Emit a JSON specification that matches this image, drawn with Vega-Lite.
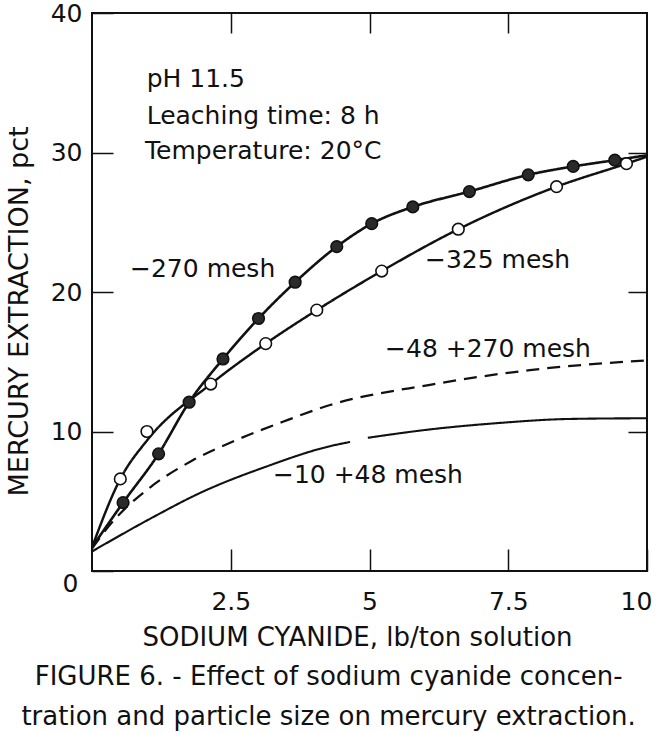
{
  "$schema": "https://vega.github.io/schema/vega-lite/v6.json",
  "width": 555,
  "height": 558,
  "autosize": {"type": "none"},
  "padding": {"left": 92, "top": 13, "right": 11, "bottom": 162},
  "background": "white",
  "config": {
    "font": "DejaVu Sans",
    "view": {"stroke": "#111", "strokeWidth": 2}
  },
  "title": {
    "text": ["FIGURE 6. - Effect of sodium cyanide concen-", "tration and particle size on mercury extraction."],
    "orient": "bottom",
    "anchor": "middle",
    "frame": "bounds",
    "font": "DejaVu Sans",
    "fontSize": 26,
    "fontWeight": "normal",
    "lineHeight": 40,
    "offset": 14,
    "color": "#111"
  },
  "datasets": {
    "curves": [
      {"series": "−270 mesh", "part": "a", "x": 0, "y": 1.7},
      {"series": "−270 mesh", "part": "a", "x": 0.56, "y": 4.9},
      {"series": "−270 mesh", "part": "a", "x": 1.2, "y": 8.4},
      {"series": "−270 mesh", "part": "a", "x": 1.75, "y": 12.1},
      {"series": "−270 mesh", "part": "a", "x": 2.36, "y": 15.2},
      {"series": "−270 mesh", "part": "a", "x": 3.0, "y": 18.1},
      {"series": "−270 mesh", "part": "a", "x": 3.66, "y": 20.7},
      {"series": "−270 mesh", "part": "a", "x": 4.41, "y": 23.25},
      {"series": "−270 mesh", "part": "a", "x": 5.04, "y": 24.9},
      {"series": "−270 mesh", "part": "a", "x": 5.78, "y": 26.1},
      {"series": "−270 mesh", "part": "a", "x": 6.8, "y": 27.2},
      {"series": "−270 mesh", "part": "a", "x": 7.86, "y": 28.4},
      {"series": "−270 mesh", "part": "a", "x": 8.67, "y": 29.0},
      {"series": "−270 mesh", "part": "a", "x": 9.42, "y": 29.45},
      {"series": "−270 mesh", "part": "a", "x": 10, "y": 29.8},
      {"series": "−325 mesh", "part": "a", "x": 0, "y": 1.7},
      {"series": "−325 mesh", "part": "a", "x": 0.51, "y": 6.6},
      {"series": "−325 mesh", "part": "a", "x": 1.0, "y": 9.4},
      {"series": "−325 mesh", "part": "a", "x": 2.14, "y": 13.4},
      {"series": "−325 mesh", "part": "a", "x": 3.13, "y": 16.3},
      {"series": "−325 mesh", "part": "a", "x": 4.05, "y": 18.7},
      {"series": "−325 mesh", "part": "a", "x": 5.22, "y": 21.5},
      {"series": "−325 mesh", "part": "a", "x": 6.6, "y": 24.5},
      {"series": "−325 mesh", "part": "a", "x": 8.37, "y": 27.55},
      {"series": "−325 mesh", "part": "a", "x": 9.63, "y": 29.2},
      {"series": "−325 mesh", "part": "a", "x": 10, "y": 29.7},
      {"series": "−48 +270 mesh", "part": "a", "x": 0, "y": 1.6},
      {"series": "−48 +270 mesh", "part": "a", "x": 0.3, "y": 3.2},
      {"series": "−48 +270 mesh", "part": "a", "x": 1.05, "y": 6.0},
      {"series": "−48 +270 mesh", "part": "a", "x": 1.8, "y": 7.9},
      {"series": "−48 +270 mesh", "part": "a", "x": 2.55, "y": 9.3},
      {"series": "−48 +270 mesh", "part": "a", "x": 3.44, "y": 10.7},
      {"series": "−48 +270 mesh", "part": "a", "x": 4.29, "y": 11.9},
      {"series": "−48 +270 mesh", "part": "a", "x": 6.09, "y": 13.35},
      {"series": "−48 +270 mesh", "part": "a", "x": 7.89, "y": 14.4},
      {"series": "−48 +270 mesh", "part": "a", "x": 10, "y": 15.1},
      {"series": "−10 +48 mesh", "part": "a", "x": 0, "y": 1.4},
      {"series": "−10 +48 mesh", "part": "a", "x": 1.05, "y": 3.75},
      {"series": "−10 +48 mesh", "part": "a", "x": 1.95, "y": 5.6},
      {"series": "−10 +48 mesh", "part": "a", "x": 3.15, "y": 7.5},
      {"series": "−10 +48 mesh", "part": "a", "x": 4.29, "y": 8.95},
      {"series": "−10 +48 mesh", "part": "a", "x": 4.65, "y": 9.25},
      {"series": "−10 +48 mesh", "part": "b", "x": 4.97, "y": 9.55},
      {"series": "−10 +48 mesh", "part": "b", "x": 6.09, "y": 10.15},
      {"series": "−10 +48 mesh", "part": "b", "x": 7.3, "y": 10.6},
      {"series": "−10 +48 mesh", "part": "b", "x": 8.61, "y": 10.9},
      {"series": "−10 +48 mesh", "part": "b", "x": 10, "y": 10.95}
    ],
    "points": [
      {"series": "−270 mesh", "x": 0.56, "y": 4.9},
      {"series": "−270 mesh", "x": 1.2, "y": 8.4},
      {"series": "−270 mesh", "x": 1.75, "y": 12.1},
      {"series": "−270 mesh", "x": 2.36, "y": 15.2},
      {"series": "−270 mesh", "x": 3.0, "y": 18.1},
      {"series": "−270 mesh", "x": 3.66, "y": 20.7},
      {"series": "−270 mesh", "x": 4.41, "y": 23.25},
      {"series": "−270 mesh", "x": 5.04, "y": 24.9},
      {"series": "−270 mesh", "x": 5.78, "y": 26.1},
      {"series": "−270 mesh", "x": 6.8, "y": 27.2},
      {"series": "−270 mesh", "x": 7.86, "y": 28.4},
      {"series": "−270 mesh", "x": 8.67, "y": 29.0},
      {"series": "−270 mesh", "x": 9.42, "y": 29.45},
      {"series": "−325 mesh", "x": 0.51, "y": 6.6},
      {"series": "−325 mesh", "x": 0.99, "y": 10.0},
      {"series": "−325 mesh", "x": 2.14, "y": 13.4},
      {"series": "−325 mesh", "x": 3.13, "y": 16.3},
      {"series": "−325 mesh", "x": 4.05, "y": 18.7},
      {"series": "−325 mesh", "x": 5.22, "y": 21.5},
      {"series": "−325 mesh", "x": 6.6, "y": 24.5},
      {"series": "−325 mesh", "x": 8.37, "y": 27.55},
      {"series": "−325 mesh", "x": 9.63, "y": 29.2}
    ],
    "labels": [
      {"label": "pH 11.5", "x": 0.985, "y": 34.67},
      {"label": "Leaching time: 8 h", "x": 0.985, "y": 32.04},
      {"label": "Temperature: 20°C", "x": 0.955, "y": 29.53},
      {"label": "−270 mesh", "x": 0.685, "y": 21.05},
      {"label": "−325 mesh", "x": 6.0, "y": 21.7},
      {"label": "−48 +270 mesh", "x": 5.28, "y": 15.36},
      {"label": "−10 +48 mesh", "x": 3.26, "y": 6.3}
    ]
  },
  "layer": [
    {
      "data": {"name": "curves"},
      "mark": {"type": "line", "interpolate": "monotone", "color": "#111"},
      "encoding": {
        "x": {
          "field": "x", "type": "quantitative",
          "scale": {"domain": [0, 10], "nice": false, "zero": false},
          "axis": {
            "orient": "bottom",
            "values": [2.5, 5, 7.5, 10],
            "format": ".1~f",
            "domain": false,
            "grid": false,
            "tickSize": -22,
            "tickWidth": 1.5,
            "tickColor": "#111",
            "labelPadding": 40,
            "labelFont": "DejaVu Sans",
            "labelFontSize": 25,
            "labelColor": "#111",
            "labelFlush": false,
            "labelOverlap": false,
            "labelOffset": {"condition": {"test": "datum.value == 10", "value": -11}, "value": 0},
            "title": "SODIUM CYANIDE,  lb/ton solution",
            "titleFont": "DejaVu Sans",
            "titleFontSize": 26,
            "titleFontWeight": "normal",
            "titleColor": "#111",
            "titleX": 265,
            "titleY": 74,
            "titleAlign": "center",
            "titleBaseline": "alphabetic"
          }
        },
        "y": {
          "field": "y", "type": "quantitative",
          "scale": {"domain": [0, 40], "nice": false, "zero": false},
          "axis": {
            "orient": "left",
            "values": [0, 10, 20, 30, 40],
            "format": "d",
            "domain": false,
            "grid": false,
            "tickSize": -21,
            "tickWidth": 1.5,
            "tickColor": "#111",
            "labelPadding": {"condition": {"test": "datum.value == 0", "value": 35}, "value": 31},
            "labelOffset": {"condition": {"test": "datum.value == 0", "value": 12}, "value": 0},
            "labelFont": "DejaVu Sans",
            "labelFontSize": 25,
            "labelColor": "#111",
            "labelFlush": false,
            "labelOverlap": false,
            "title": "MERCURY EXTRACTION, pct",
            "titleFont": "DejaVu Sans",
            "titleFontSize": 27,
            "titleFontWeight": "normal",
            "titleColor": "#111",
            "titleAngle": 270,
            "titleX": -65,
            "titleY": 298,
            "titleAlign": "center",
            "titleBaseline": "alphabetic"
          }
        },
        "detail": {"field": "part", "type": "nominal"},
        "strokeDash": {
          "field": "series", "type": "nominal",
          "scale": {"domain": ["−270 mesh", "−325 mesh", "−48 +270 mesh", "−10 +48 mesh"], "range": [[1, 0], [1, 0], [13, 8], [1, 0]]},
          "legend": null
        },
        "strokeWidth": {
          "field": "series", "type": "nominal",
          "scale": {"domain": ["−270 mesh", "−325 mesh", "−48 +270 mesh", "−10 +48 mesh"], "range": [2.6, 2.1, 2.2, 1.9]},
          "legend": null
        }
      }
    },
    {
      "data": {"name": "points"},
      "mark": {"type": "point", "shape": "circle", "filled": true, "size": 135, "stroke": "#111", "strokeWidth": 1.6, "opacity": 1},
      "encoding": {
        "x": {"field": "x", "type": "quantitative", "axis": null},
        "y": {"field": "y", "type": "quantitative", "axis": null},
        "fill": {
          "field": "series", "type": "nominal",
          "scale": {"domain": ["−270 mesh", "−325 mesh"], "range": ["#2a2a2a", "#ffffff"]},
          "legend": null
        }
      }
    },
    {
      "data": {"name": "labels"},
      "mark": {"type": "text", "align": "left", "baseline": "alphabetic", "font": "DejaVu Sans", "fontSize": 25, "color": "#111"},
      "encoding": {
        "x": {
          "field": "x", "type": "quantitative",
          "axis": {"orient": "top", "values": [2.5, 5, 7.5], "labels": false, "domain": false, "grid": false, "tickSize": -20, "tickWidth": 1.5, "tickColor": "#111", "title": null}
        },
        "y": {
          "field": "y", "type": "quantitative",
          "axis": {"orient": "right", "values": [10, 20, 30], "labels": false, "domain": false, "grid": false, "tickSize": -19, "tickWidth": 1.5, "tickColor": "#111", "title": null}
        },
        "text": {"field": "label"}
      }
    }
  ]
}
